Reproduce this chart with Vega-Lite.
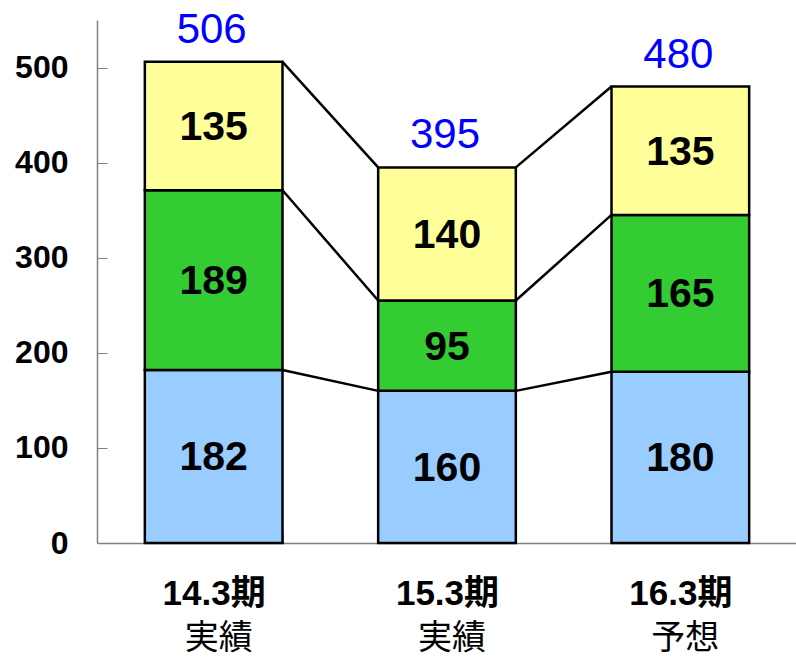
{
  "$schema": "https://vega.github.io/schema/vega-lite/v6.json",
  "width": 700,
  "height": 523,
  "autosize": {"type": "none"},
  "padding": {"left": 97, "top": 20, "right": 0, "bottom": 115},
  "background": "white",
  "config": {"view": {"stroke": null}, "font": "Liberation Sans"},
  "datasets": {
    "segments": [
      {"period": "14.3期", "seg": "a", "k": 1, "value": 182},
      {"period": "14.3期", "seg": "b", "k": 2, "value": 189},
      {"period": "14.3期", "seg": "c", "k": 3, "value": 135},
      {"period": "15.3期", "seg": "a", "k": 1, "value": 160},
      {"period": "15.3期", "seg": "b", "k": 2, "value": 95},
      {"period": "15.3期", "seg": "c", "k": 3, "value": 140},
      {"period": "16.3期", "seg": "a", "k": 1, "value": 180},
      {"period": "16.3期", "seg": "b", "k": 2, "value": 165},
      {"period": "16.3期", "seg": "c", "k": 3, "value": 135}
    ],
    "connectors": [
      {"from": "14.3期", "to": "15.3期", "y1": 182, "y2": 160},
      {"from": "14.3期", "to": "15.3期", "y1": 371, "y2": 255},
      {"from": "14.3期", "to": "15.3期", "y1": 506, "y2": 395},
      {"from": "15.3期", "to": "16.3期", "y1": 160, "y2": 180},
      {"from": "15.3期", "to": "16.3期", "y1": 255, "y2": 345},
      {"from": "15.3期", "to": "16.3期", "y1": 395, "y2": 480}
    ],
    "totals": [
      {"period": "14.3期", "total": 506},
      {"period": "15.3期", "total": 395},
      {"period": "16.3期", "total": 480}
    ]
  },
  "resolve": {"axis": {"x": "independent"}},
  "layer": [
    {
      "data": {"name": "connectors"},
      "mark": {"type": "rule", "stroke": "black", "strokeWidth": 2.5},
      "encoding": {
        "x": {"field": "from", "type": "nominal", "bandPosition": 1, "axis": null,
              "scale": {"domain": ["14.3期", "15.3期", "16.3期"], "paddingInner": 0.41, "paddingOuter": 0.205}},
        "x2": {"field": "to", "bandPosition": 0},
        "y": {"field": "y1", "type": "quantitative", "scale": {"domain": [0, 550], "nice": false}},
        "y2": {"field": "y2"}
      }
    },
    {
      "data": {"name": "segments"},
      "mark": {"type": "bar", "stroke": "black", "strokeWidth": 2.5},
      "encoding": {
        "x": {"field": "period", "type": "nominal",
              "scale": {"domain": ["14.3期", "15.3期", "16.3期"], "paddingInner": 0.41, "paddingOuter": 0.205},
              "axis": {"title": null, "labelAngle": 0, "labelFont": "Liberation Sans, Noto Sans CJK JP", "labelFontSize": 35, "labelFontWeight": "bold", "labelColor": "black", "labelPadding": 43, "tickBand": "extent", "tickSize": -10, "tickColor": "#808080", "domainColor": "#808080", "domainWidth": 1.5, "grid": false}},
        "y": {"field": "value", "type": "quantitative", "stack": "zero",
              "scale": {"domain": [0, 550], "nice": false},
              "axis": {"title": null, "values": [0, 100, 200, 300, 400, 500], "labelFontSize": 32, "labelFontWeight": "bold", "labelColor": "black", "labelPadding": 39, "tickSize": -10, "tickColor": "#808080", "domainColor": "#808080", "domainWidth": 1.5, "grid": false}},
        "color": {"field": "seg", "type": "nominal", "legend": null,
                  "scale": {"domain": ["a", "b", "c"], "range": ["#99CCFF", "#33CC33", "#FFFF99"]}},
        "order": {"field": "k", "type": "quantitative"}
      }
    },
    {
      "data": {"name": "segments"},
      "mark": {"type": "text", "fontSize": 41, "fontWeight": "bold", "color": "black", "baseline": "middle", "dy": 2},
      "encoding": {
        "x": {"field": "period", "type": "nominal", "axis": null,
              "scale": {"domain": ["14.3期", "15.3期", "16.3期"], "paddingInner": 0.41, "paddingOuter": 0.205}},
        "y": {"field": "value", "type": "quantitative", "stack": "zero", "bandPosition": 0.5},
        "order": {"field": "k", "type": "quantitative"},
        "text": {"field": "value", "type": "quantitative"}
      }
    },
    {
      "data": {"name": "totals"},
      "mark": {"type": "text", "fontSize": 42, "color": "#0000FF", "baseline": "alphabetic", "dy": -19, "dx": -2},
      "encoding": {
        "x": {"field": "period", "type": "nominal",
              "scale": {"domain": ["14.3期", "15.3期", "16.3期"], "paddingInner": 0.41, "paddingOuter": 0.205},
              "axis": {"orient": "bottom", "title": null, "labelAngle": 0, "labelFont": "Noto Sans CJK JP", "labelFontSize": 34, "labelColor": "black", "labelPadding": 78, "labelOffset": 5, "ticks": false, "domain": false, "grid": false,
                       "labelExpr": "datum.value == '16.3期' ? '予想' : '実績'"}},
        "y": {"field": "total", "type": "quantitative"},
        "text": {"field": "total", "type": "quantitative"}
      }
    }
  ]
}
